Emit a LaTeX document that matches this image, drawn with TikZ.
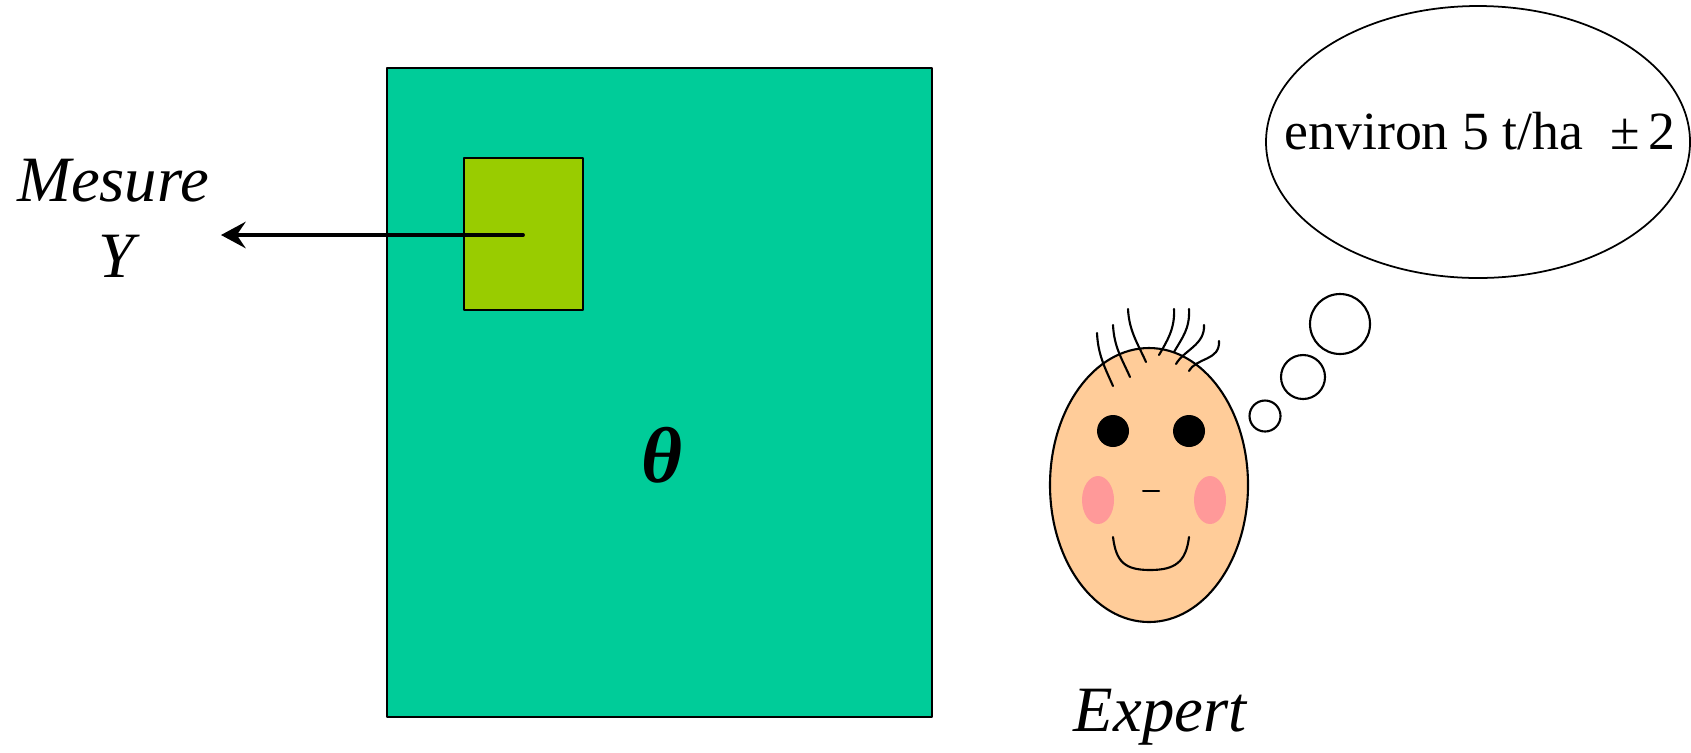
\documentclass[tikz,border=0pt]{standalone}
\usepackage{fontspec}
\setmainfont{Liberation Serif}[ItalicFont={Liberation Serif Italic},BoldItalicFont={Liberation Serif Bold Italic}]
\usetikzlibrary{arrows.meta}
\definecolor{parcelle}{RGB}{0,204,153}
\definecolor{placette}{RGB}{153,204,0}
\definecolor{peau}{RGB}{255,204,153}
\definecolor{joue}{RGB}{255,153,153}
\begin{document}
\begin{tikzpicture}[x=0.1mm,y=-0.1mm,line join=round,line cap=round,
	lbl/.style={font=\fontsize{18.4}{22}\selectfont\itshape,inner sep=0pt},
	trait/.style={line width=0.6pt}]
	\useasboundingbox (0,0) rectangle (1691,752);
	% champ et placette
	\draw[line width=0.45pt,fill=parcelle] (387,68) rectangle (932,717);
	\draw[line width=0.45pt,fill=placette] (464,158) rectangle (583,310);
	\node[font=\fontsize{22.5}{26}\selectfont\bfseries\itshape,inner sep=0pt,anchor=base] (theta) at (662,482) {θ};
	\coordinate (centre) at (523,235);
	\coordinate (pointe) at (221,235);
	\draw[line width=1.1pt,-{Stealth[length=7pt,width=7.5pt,inset=2.5pt]}] (centre) -- (pointe);
	\node[lbl,anchor=base] (mesure) at (113,201) {Mesure};
	\node[lbl,anchor=base] (mesureY) at (116,277) {Y};
	% la tete
	\draw[trait,fill=peau] (1149,485) ellipse (99 and 137);
	\foreach \a/\b/\c/\d in {1097/333/1113/386,1113/325/1130/377,1128/309/1146/362}
		\draw[trait] (\a,\b) .. controls (\a+1,\b+22) and (\c-8,\d-18) .. (\c,\d);
	\foreach \a/\b/\c/\d in {1174/309/1159/355,1189/309/1174/352,1204/325/1176/364,1219/341/1189/371}
		\draw[trait] (\a,\b) .. controls (\a+1,\b+20) and (\c+8,\d-14) .. (\c,\d);
	\fill (1113,431) circle (16);
	\fill (1189,431) circle (16);
	\fill[joue] (1098,500) ellipse (16 and 24);
	\fill[joue] (1210,500) ellipse (16 and 24);
	\draw[trait] (1143,491) -- (1159,491);
	\draw[trait] (1113,537) .. controls (1116,562) and (1125,570) .. (1150,570)
		.. controls (1175,570) and (1186,562) .. (1189,537);
	\node[lbl,anchor=base] (expert) at (1160,731) {Expert};
	% la bulle
	\draw[trait] (1265,416) circle (15.5);
	\draw[trait] (1303,377) circle (22);
	\draw[trait] (1340,324) circle (30);
	\draw[line width=0.5pt] (1478,142) ellipse (212 and 136);
	\node[font=\fontsize{15.3}{18}\selectfont,inner sep=0pt,anchor=base] (avis) at (1480,149) {environ 5 t/ha~~±\,2};
\end{tikzpicture}
\end{document}
